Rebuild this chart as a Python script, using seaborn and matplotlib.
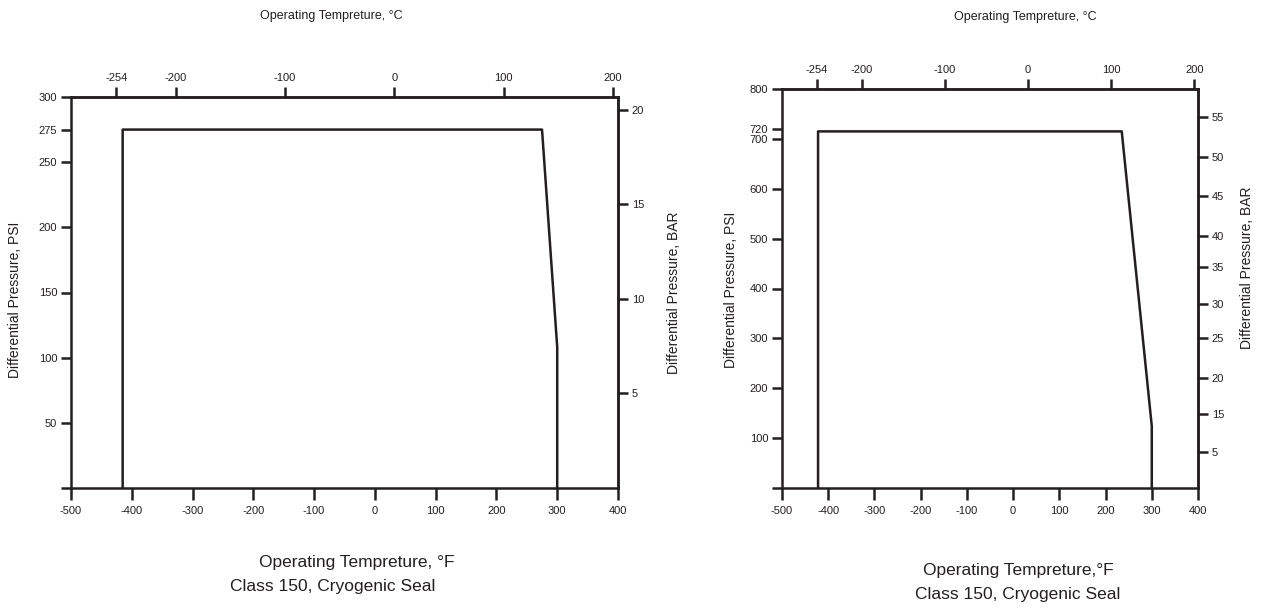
import matplotlib
matplotlib.use("Agg")
import matplotlib.pyplot as plt
import seaborn as sns
import pandas as pd

# ---- data ----
left_temp_f = [-415, -415, 275, 300, 300]
left_psi = [0, 275, 275, 108, 0]
right_temp_f = [-422, -422, 235, 300, 300]
right_psi = [0, 715, 715, 124, 0]

f_ticks = [-500, -400, -300, -200, -100, 0, 100, 200, 300, 400]
c_ticks = [-254, -200, -100, 0, 100, 200]
left_psi_ticks = [0, 50, 100, 150, 200, 250, 275, 300]
left_psi_labels = ["", "50", "100", "150", "200", "250", "275", "300"]
left_bar_ticks = [5, 10, 15, 20]
right_psi_ticks = [0, 100, 200, 300, 400, 500, 600, 700, 720, 800]
right_psi_labels = ["", "100", "200", "300", "400", "500", "600", "700", "720", "800"]
right_bar_ticks = [5, 10.2, 15.2, 20.7, 25.4, 30.5, 34.8, 40.4, 45.8, 51.3]
right_bar_labels = ["5", "15", "20", "25", "30", "35", "40", "45", "50", "55"]

INK = "#231f20"
sns.set_theme(style="white")
plt.rcParams["font.family"] = ["Liberation Sans", "DejaVu Sans"]

fig = plt.figure(figsize=(12.63, 6.08), dpi=100)

def f2c(f):
    return (f - 32) * 5.0 / 9.0

def c2f(c):
    return c * 9.0 / 5.0 + 32

def psi2bar(p):
    return p / 14.5038

def bar2psi(b):
    return b * 14.5038

def style_ticks(ax, axis="both", length=7, pad=3):
    ax.tick_params(axis=axis, which="major", direction="out", length=length, width=1.8,
                   color=INK, labelcolor=INK, labelsize=8, pad=pad)

def panel(rect, tf, psi, ymax, yt, yl, bt, bl):
    ax = fig.add_axes(rect)
    df = pd.DataFrame({"F": tf, "PSI": psi})
    sns.lineplot(data=df, x="F", y="PSI", sort=False, estimator=None,
                 color=INK, linewidth=1.8, ax=ax)
    ax.set_xlim(-500, 400)
    ax.set_ylim(0, ymax)
    ax.set_xticks(f_ticks)
    ax.set_xticklabels([str(t) for t in f_ticks])
    ax.set_yticks(yt)
    ax.set_yticklabels(yl)
    ax.set_xlabel("")
    ax.set_ylabel("")
    for s in ax.spines.values():
        s.set_visible(True)
        s.set_color(INK)
        s.set_linewidth(1.8)
    ax.tick_params(bottom=True, left=True)
    style_ticks(ax, "y", length=7, pad=3)
    style_ticks(ax, "x", length=8.5, pad=4.5)
    top = ax.secondary_xaxis("top", functions=(f2c, c2f))
    top.set_xticks(c_ticks)
    top.set_xticklabels([str(t) for t in c_ticks])
    top.spines["top"].set_color(INK)
    top.spines["top"].set_linewidth(1.8)
    style_ticks(top, length=7, pad=3)
    right = ax.secondary_yaxis("right", functions=(psi2bar, bar2psi))
    right.set_yticks(bt)
    right.set_yticklabels(bl)
    right.spines["right"].set_color(INK)
    right.spines["right"].set_linewidth(1.8)
    style_ticks(right, length=7, pad=3)
    return ax

W, H = 1263.0, 608.0
panel([71 / W, (H - 488) / H, 547 / W, 391 / H], left_temp_f, left_psi, 300,
      left_psi_ticks, left_psi_labels, left_bar_ticks, [str(t) for t in left_bar_ticks])
panel([782 / W, (H - 488) / H, 416 / W, 399 / H], right_temp_f, right_psi, 800,
      right_psi_ticks, right_psi_labels, right_bar_ticks, right_bar_labels)

tc = dict(color=INK, ha="center", va="center")
fig.text(331 / W, 1 - 16 / H, "Operating Tempreture, °C", fontsize=9, **tc)
fig.text(1025 / W, 1 - 17 / H, "Operating Tempreture, °C", fontsize=9, **tc)
fig.text(15 / W, 1 - 300 / H, "Differential Pressure, PSI", fontsize=10, rotation=90, **tc)
fig.text(674 / W, 1 - 293 / H, "Differential Pressure, BAR", fontsize=10, rotation=90, **tc)
fig.text(731 / W, 1 - 290 / H, "Differential Pressure, PSI", fontsize=10, rotation=90, **tc)
fig.text(1247 / W, 1 - 268 / H, "Differential Pressure, BAR", fontsize=10, rotation=90, **tc)
fig.text(357 / W, 1 - 562 / H, "Operating Tempreture, °F", fontsize=12.5, **tc)
fig.text(333 / W, 1 - 587 / H, "Class 150, Cryogenic Seal", fontsize=12.5, **tc)
fig.text(1018 / W, 1 - 570 / H, "Operating Tempreture,°F", fontsize=12.5, **tc)
fig.text(1018 / W, 1 - 595 / H, "Class 150, Cryogenic Seal", fontsize=12.5, **tc)

fig.savefig("out.png", dpi=100)
